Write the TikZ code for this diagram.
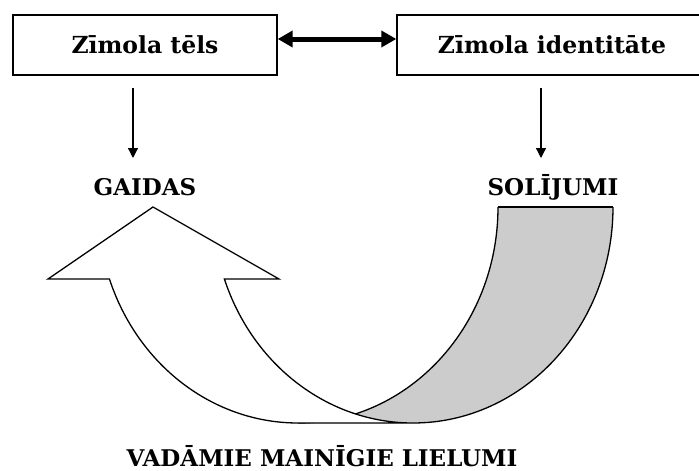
\documentclass[tikz,border=0pt]{standalone}
\usepackage{fontspec}
\setmainfont{DejaVu Serif}
\usetikzlibrary{arrows.meta,calc}

\definecolor{bandgray}{RGB}{204,204,204}

\tikzset{
  labelbox/.style={draw, line width=1.4pt, minimum height=60pt, inner sep=0pt,
                   font=\fontsize{23.5}{27}\selectfont\bfseries},
  caption/.style={anchor=base, inner sep=0pt, font=\fontsize{23}{27}\selectfont\bfseries},
  downarrow/.style={line width=1.3pt, -{Triangle[length=10pt,width=10pt]}},
  bothways/.style={line width=5pt, {Triangle[length=15pt,width=16pt]}-{Triangle[length=15pt,width=16pt]}},
  outline/.style={line width=1.3pt, line join=miter}
}

\begin{document}
\begin{tikzpicture}[x=1pt, y=-1pt]
  \clip (0,0) rectangle (699,471);
  \fill[white] (0,0) rectangle (699,471);

  % top boxes
  \node[labelbox, minimum width=264pt] (tels) at (145,45) {Zīmola tēls};
  \node[labelbox, minimum width=310pt] (ident) at (552,45) {Zīmola identitāte};

  % captions
  \node[caption] (gaidas) at (145,195) {GAIDAS};
  \node[caption] (solij) at (553,195) {SOLĪJUMI};
  \node[caption] (vadam) at (322,466) {VADĀMIE MAINĪGIE LIELUMI};

  % connectors
  \draw[bothways] ([yshift=6pt]tels.east) -- ([yshift=6pt]ident.west);
  \coordinate (telsfoot) at ($(tels.south)+(-12,12)$);
  \coordinate (gaidastop) at (telsfoot |- 0,158);
  \draw[downarrow] (telsfoot) -- (gaidastop);
  \coordinate (identfoot) at ($(ident.south)+(-11,12)$);
  \coordinate (solijtop) at (identfoot |- 0,158);
  \draw[downarrow] (identfoot) -- (solijtop);

  % curved band: rear (grey) part
  \fill[bandgray] (613,207) arc[start angle=0, end angle=90, x radius=200, y radius=216]
    -- (298,423) arc[start angle=90, end angle=0, x radius=200, y radius=216] -- cycle;
  \draw[outline] (613,207) arc[start angle=0, end angle=90, x radius=200, y radius=216];
  \draw[outline] (498,207) -- (613,207);
  \draw[outline] (298,423) arc[start angle=90, end angle=0, x radius=200, y radius=216];

  % curved band: front (white) arrow pointing up
  \draw[outline, fill=white] (298,423)
    arc[start angle=90, end angle=160.53, x radius=200, y radius=216]
    -- (48,279) -- (153,207) -- (279,279) -- (224.4,279)
    arc[start angle=160.53, end angle=90, x radius=200, y radius=216]
    -- cycle;
\end{tikzpicture}
\end{document}
